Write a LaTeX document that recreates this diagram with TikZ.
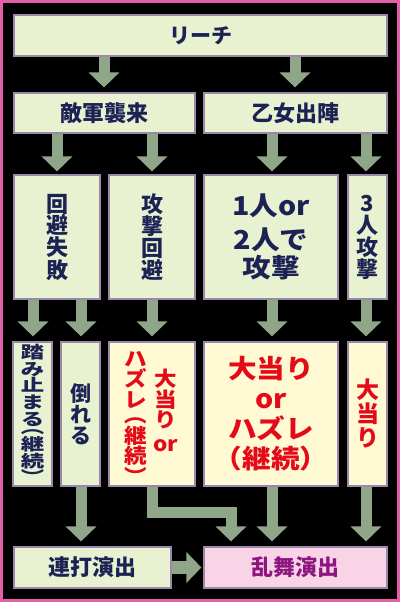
\documentclass[tikz,border=0pt]{standalone}
\usepackage{fontspec}
\setmainfont{Noto Sans CJK JP}[BoldFont=* Black]
\newfontfamily\wideA{Noto Sans CJK JP}[FakeStretch=1.4,BoldFont=* Black]
\newfontfamily\wideB{Noto Sans CJK JP}[FakeStretch=1.1,BoldFont=* Black]
\usetikzlibrary{arrows.meta}
\definecolor{frame}{RGB}{228,95,170}
\definecolor{gfill}{RGB}{232,241,208}
\definecolor{yfill}{RGB}{255,249,212}
\definecolor{pfill}{RGB}{248,212,230}
\definecolor{edge}{RGB}{155,135,170}
\definecolor{navy}{RGB}{28,34,84}
\definecolor{redt}{RGB}{228,10,24}
\definecolor{mag}{RGB}{142,22,128}
\definecolor{arr}{RGB}{143,166,137}
\newcommand\jf[2]{\bfseries\fontsize{#1}{#2}\selectfont\lineskiplimit=-100pt\lineskip=0pt}
\begin{document}
\begin{tikzpicture}[x=1pt,y=-1pt,
  gbox/.style={draw=edge,line width=1.2pt,fill=gfill,inner sep=0pt,align=center,text=navy},
  ybox/.style={gbox,fill=yfill,text=redt},
  pbox/.style={gbox,fill=pfill,text=mag},
  txt/.style={inner sep=0pt,align=center},
  barrow/.style={draw=arr,line width=11pt,-{Triangle[width=30pt,length=15pt]}}]
\fill[frame] (0,0) rectangle (400,602);
\fill[black] (3,3) rectangle (396.5,598.5);
\useasboundingbox (0,0) rectangle (400,602);
% row 1
\node[gbox,minimum width=373pt,minimum height=41pt,font=\jf{21}{21}] (reach) at (200.5,35.5) {リーチ};
% row 2
\node[gbox,minimum width=181pt,minimum height=40pt,font=\jf{22}{22}] (teki) at (104.5,113) {敵軍襲来};
\node[gbox,minimum width=183pt,minimum height=40pt,font=\jf{22}{22}] (otome) at (295.5,113) {乙女出陣};
% row 3
\node[gbox,minimum width=86pt,minimum height=124pt,font=\jf{22}{22}] (kaihi) at (57,237) {回\\避\\失\\敗};
\node[gbox,minimum width=86pt,minimum height=124pt,font=\jf{22}{22}] (kougeki) at (152,237) {攻\\撃\\回\\避};
\node[gbox,minimum width=134pt,minimum height=124pt,font={\wideB\jf{26}{28}}] (futari) at (271,237) {1人or\\[6pt]2人で\\攻撃};
\node[gbox,minimum width=39pt,minimum height=124pt,font=\jf{22}{22}] (sannin) at (367.5,237) {3\\人\\攻\\撃};
% row 4
\node[gbox,minimum width=39pt,minimum height=144pt,font={\wideA\jf{16.7}{16.7}}] (fumi) at (32.5,414) {踏\\み\\止\\ま\\る\\[-8pt]︵\\継\\続\\︶};
\node[gbox,minimum width=39pt,minimum height=144pt,font=\jf{21}{21}] (taoreru) at (80.5,414) {倒\\れ\\る};
\node[ybox,minimum width=86pt,minimum height=144pt] (atari1) at (152,414) {};
\node[txt,text=redt,font={\wideB\jf{20.5}{20.5}},anchor=north] (a1r) at (166,369) {大\\当\\り\\[3pt]or};
\node[txt,text=redt,font={\wideB\jf{20.5}{20.5}},anchor=north] (a1l) at (136,351) {ハ\\ズ\\レ\\[-5pt]︵\\継\\続\\︶};
\node[ybox,minimum width=134pt,minimum height=144pt,font={\wideB\jf{26}{30}}] (atari2) at (271,414) {大当り\\or\\ハズレ\\（継続）};
\node[ybox,minimum width=39pt,minimum height=144pt,font=\jf{23}{24}] (atari3) at (367.5,414) {大\\当\\り};
% row 5
\node[gbox,minimum width=157pt,minimum height=41pt,font=\jf{22}{22}] (renda) at (92.5,567.5) {連打演出};
\node[pbox,minimum width=183pt,minimum height=41pt,font=\jf{22}{22}] (ranbu) at (295.5,567.5) {乱舞演出};
% arrows
\draw[barrow,shorten >=5pt] (reach.south -| 104,0) -- (teki.north -| 104,0);
\draw[barrow,shorten >=5pt] (reach.south -| 295,0) -- (otome.north -| 295,0);
\draw[barrow,shorten >=3pt] (teki.south -| 57,0) -- (kaihi.north -| 57,0);
\draw[barrow,shorten >=3pt] (teki.south -| 152,0) -- (kougeki.north -| 152,0);
\draw[barrow,shorten >=3pt] (otome.south -| 272,0) -- (futari.north -| 272,0);
\draw[barrow,shorten >=3pt] (otome.south -| 366,0) -- (sannin.north -| 366,0);
\draw[barrow,shorten >=5pt] (kaihi.south -| 33,0) -- (fumi.north -| 33,0);
\draw[barrow,shorten >=5pt] (kaihi.south -| 81,0) -- (taoreru.north -| 81,0);
\draw[barrow,shorten >=5pt] (kougeki.south -| 152,0) -- (atari1.north -| 152,0);
\draw[barrow,shorten >=5pt] (futari.south -| 272,0) -- (atari2.north -| 272,0);
\draw[barrow,shorten >=5pt] (sannin.south -| 366,0) -- (atari3.north -| 366,0);
\draw[barrow,shorten >=5pt] (taoreru.south -| 81,0) -- (renda.north -| 81,0);
\draw[barrow,shorten >=5pt] (atari1.south -| 152,0) -- (152,512.5) -| (ranbu.north -| 231,0);
\draw[barrow,shorten >=5pt] (atari2.south -| 272,0) -- (ranbu.north -| 272,0);
\draw[barrow,shorten >=5pt] (atari3.south -| 366,0) -- (ranbu.north -| 366,0);
\draw[barrow,line width=13pt,shorten >=2pt] (renda.east) -- (ranbu.west);
\end{tikzpicture}
\end{document}
